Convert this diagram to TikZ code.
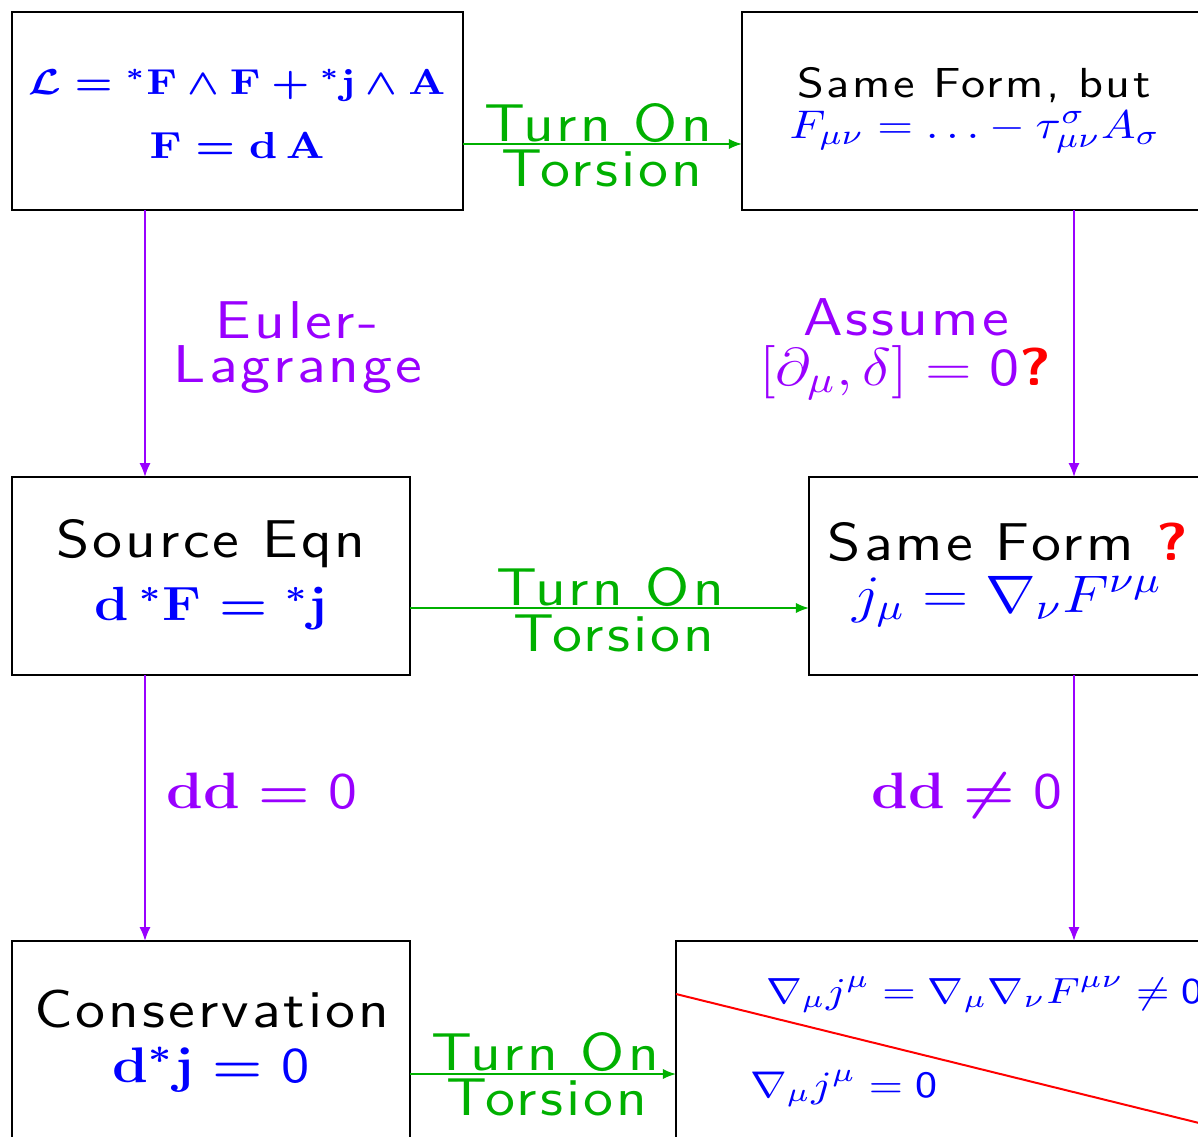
\RequirePackage{fix-cm}
\documentclass[tikz,border=0pt]{standalone}
\usepackage{fontspec}
\setsansfont{Latin Modern Sans}[LetterSpace=5]
\usepackage{graphicx}
\usetikzlibrary{arrows.meta,fit}
\definecolor{myblue}{RGB}{0,0,255}
\definecolor{mypurple}{RGB}{153,0,255}
\definecolor{mygreen}{RGB}{0,176,0}
\definecolor{myred}{RGB}{255,0,0}
\newcommand{\hx}[1]{\scalebox{1.15}[1]{#1}}
\newcommand{\fs}[1]{\fontsize{#1}{#1}\selectfont}
\newcommand{\bigsans}{\sffamily\fs{13.3}}
\newcommand{\szero}{\mbox{\sffamily\mdseries 0}}
\begin{document}
\begin{tikzpicture}[x=0.25pt,y=-0.25pt,
  box/.style={draw=black, line width=0.5pt, inner sep=0pt, outer sep=0pt},
  txt/.style={inner sep=0pt, outer sep=0pt, anchor=base},
  garrow/.style={draw=mygreen, line width=0.45pt, -{Latex[length=3.3pt,width=2.6pt]}},
  parrow/.style={draw=mypurple, line width=0.45pt, -{Latex[length=3.5pt,width=2.8pt]}},
  redline/.style={draw=myred, line width=0.5pt}]
\useasboundingbox (0,0) rectangle (1198,1136);
\clip (0,0) rectangle (1198,1136);
% boxes
\node[box, fit={(12,12) (463,210)}] (b1) {};
\node[box, fit={(742,12) (1260,210)}] (b2) {};
\node[box, fit={(12,477) (410,675)}] (b3) {};
\node[box, fit={(809,477) (1260,675)}] (b4) {};
\node[box, fit={(12,941) (410,1200)}] (b5) {};
\node[box, fit={(676,941) (1260,1200)}] (b6) {};
% helper coordinates
\coordinate (ya) at (0,144);
\coordinate (ym) at (0,608);
\coordinate (yb) at (0,1074);
\coordinate (xl) at (145,0);
\coordinate (xr) at (1074,0);
\coordinate (r1) at (676,994);
\coordinate (r2) at (1260,1138);
% red line
\draw[redline] (b6.west |- r1) -- (r2);
% connectors
\draw[garrow] (b1.east |- ya) -- (b2.west |- ya);
\draw[garrow] (b3.east |- ym) -- (b4.west |- ym);
\draw[garrow] (b5.east |- yb) -- (b6.west |- yb);
\draw[parrow] (b1.south -| xl) -- (b3.north -| xl);
\draw[parrow] (b3.south -| xl) -- (b5.north -| xl);
\draw[parrow] (b2.south -| xr) -- (b4.north -| xr);
\draw[parrow] (b4.south -| xr) -- (b6.north -| xr);
% box texts
\node[txt] (b1a) at (237,94) {\hx{\fs{9.0}\color{myblue}\boldmath$\mathcal{L}={}^*\mathbf{F}\wedge\mathbf{F}+{}^*\mathbf{j}\wedge\mathbf{A}$}};
\node[txt] (b1b) at (237,158) {\hx{\fs{9.4}\color{myblue}\boldmath$\mathbf{F}=\mathbf{d}\,\mathbf{A}$}};
\node[txt] (b2a) at (974,97) {\hx{\sffamily\fs{10.5}Same Form, but}};
\node[txt] (b2b) at (975,138) {\hx{\fs{10.0}\color{myblue}$F_{\mu\nu}=\ldots-\tau^{\sigma}_{\mu\nu}A_{\sigma}$}};
\node[txt] (b3a) at (211,557) {\hx{\bigsans Source Eqn}};
\node[txt] (b3b) at (211,620) {\hx{\fs{12}\color{myblue}\boldmath$\mathbf{d}\,{}^*\mathbf{F}={}^*\mathbf{j}$}};
\node[txt] (b4a) at (1008,560) {\hx{\bigsans Same Form {\color{myred}\bfseries ?}}};
\node[txt] (b4b) at (1007,612) {\hx{\fs{13.2}\color{myblue}$j_\mu=\nabla_\nu F^{\nu\mu}$}};
\node[txt] (b5a) at (212,1027) {\hx{\bigsans Conservation}};
\node[txt] (b5b) at (211,1082) {\hx{\fs{12.5}\color{myblue}\boldmath$\mathbf{d}{}^*\mathbf{j}=\szero$}};
\node[txt, anchor=base west] (b6a) at (766,1003) {\hx{\fs{9.1}\color{myblue}$\nabla_\mu j^\mu=\nabla_\mu\nabla_\nu F^{\mu\nu}\neq\szero$}};
\node[txt, anchor=base west] (b6b) at (750,1097) {\hx{\fs{9.3}\color{myblue}$\nabla_\mu j^\mu=\szero$}};
% connector labels
\node[txt] (ta1) at (598,141) {\hx{\bigsans\color{mygreen}Turn On}};
\node[txt] (ta2) at (602,186) {\hx{\bigsans\color{mygreen}Torsion}};
\node[txt] (tm1) at (610,605) {\hx{\bigsans\color{mygreen}Turn On}};
\node[txt] (tm2) at (614,651) {\hx{\bigsans\color{mygreen}Torsion}};
\node[txt] (tb1) at (545,1070) {\hx{\bigsans\color{mygreen}Turn On}};
\node[txt] (tb2) at (547,1115) {\hx{\bigsans\color{mygreen}Torsion}};
\node[txt] (el1) at (297,338) {\hx{\bigsans\color{mypurple}Euler-}};
\node[txt] (el2) at (298,382) {\hx{\bigsans\color{mypurple}Lagrange}};
\node[txt] (as1) at (906,335) {\hx{\bigsans\color{mypurple}Assume}};
\node[txt] (as2) at (905,385) {\hx{\bigsans\color{mypurple}$[\partial_\mu,\delta]=\szero${\color{myred}\bfseries ?}}};
\node[txt] (dd1) at (262,808) {\hx{\fs{12.8}\color{mypurple}\boldmath$\mathbf{dd}=\szero$}};
\node[txt] (dd2) at (967,808) {\hx{\fs{12.8}\color{mypurple}\boldmath$\mathbf{dd}\neq\szero$}};
\end{tikzpicture}
\end{document}
